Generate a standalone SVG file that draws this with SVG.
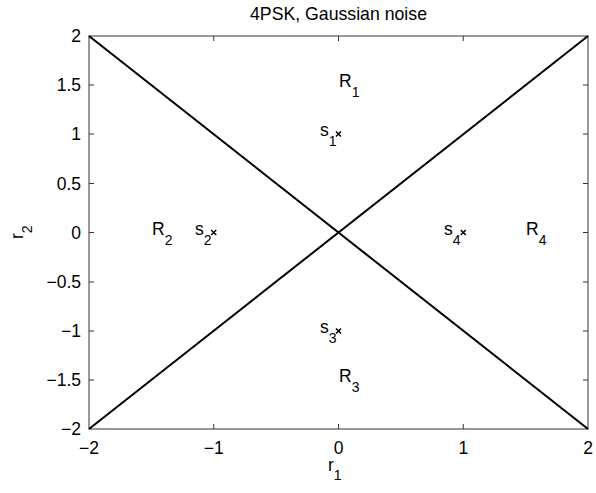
<svg xmlns="http://www.w3.org/2000/svg" width="596" height="493" viewBox="0 0 596 493">
<style>
text{font-family:"Liberation Sans",Arial,sans-serif;fill:#000}
.tk{font-size:17.5px}
.lb{font-size:17.5px}
.sb{font-size:14px}
.ax{stroke:#333;stroke-width:1;fill:none}
.dl{stroke:#000;stroke-width:2;fill:none}
.mk{stroke:#000;stroke-width:1.5}
</style>
<rect x="0" y="0" width="596" height="493" fill="#fff"/>
<text x="338.5" y="20" text-anchor="middle" style="font-size:17.7px">4PSK, Gaussian noise</text>
<g id="axes">
<rect class="ax" x="89" y="36" width="499" height="393"/>
<path class="ax" d="M213.75,429v-5M338.5,429v-5M463.25,429v-5M213.75,36v5M338.5,36v5M463.25,36v5
M89,380h5M89,331h5M89,282h5M89,232.5h5M89,183.5h5M89,134h5M89,85h5
M588,380h-5M588,331h-5M588,282h-5M588,232.5h-5M588,183.5h-5M588,134h-5M588,85h-5"/>
</g>
<g id="xticklabels" class="tk" text-anchor="middle">
<text x="89" y="454">−2</text>
<text x="213.75" y="454">−1</text>
<text x="338.5" y="454">0</text>
<text x="463.25" y="454">1</text>
<text x="588" y="454">2</text>
</g>
<g id="yticklabels" class="tk" text-anchor="end">
<text x="81" y="42">2</text>
<text x="81" y="91">1.5</text>
<text x="81" y="140">1</text>
<text x="81" y="189.5">0.5</text>
<text x="81" y="238.5">0</text>
<text x="81" y="288">−0.5</text>
<text x="81" y="337">−1</text>
<text x="81" y="386">−1.5</text>
<text x="81" y="435">−2</text>
</g>
<text class="lb" x="328" y="471">r<tspan class="sb" dy="9">1</tspan></text>
<text class="lb" transform="translate(23,239) rotate(-90)">r<tspan class="sb" dy="9">2</tspan></text>
<g id="connectors">
<line class="dl" x1="89" y1="36" x2="588" y2="429"/>
<line class="dl" x1="89" y1="429" x2="588" y2="36"/>
</g>
<g id="markers" class="mk">
<path d="M336,131.5l5,5M341,131.5l-5,5"/>
<path d="M211.25,230l5,5M216.25,230l-5,5"/>
<path d="M336,328.5l5,5M341,328.5l-5,5"/>
<path d="M460.75,230l5,5M465.75,230l-5,5"/>
</g>
<g id="R1"><text class="lb" x="339" y="87">R<tspan class="sb" dy="10">1</tspan></text></g>
<g id="R2"><text class="lb" x="152" y="234.5">R<tspan class="sb" dy="10">2</tspan></text></g>
<g id="R3"><text class="lb" x="339" y="382">R<tspan class="sb" dy="10">3</tspan></text></g>
<g id="R4"><text class="lb" x="526" y="234.5">R<tspan class="sb" dy="10">4</tspan></text></g>
<g id="s1"><text class="lb" x="320" y="136">s<tspan class="sb" dy="10">1</tspan></text></g>
<g id="s2"><text class="lb" x="195" y="234.5">s<tspan class="sb" dy="10">2</tspan></text></g>
<g id="s3"><text class="lb" x="320" y="333">s<tspan class="sb" dy="10">3</tspan></text></g>
<g id="s4"><text class="lb" x="444" y="234.5">s<tspan class="sb" dy="10">4</tspan></text></g>
</svg>
